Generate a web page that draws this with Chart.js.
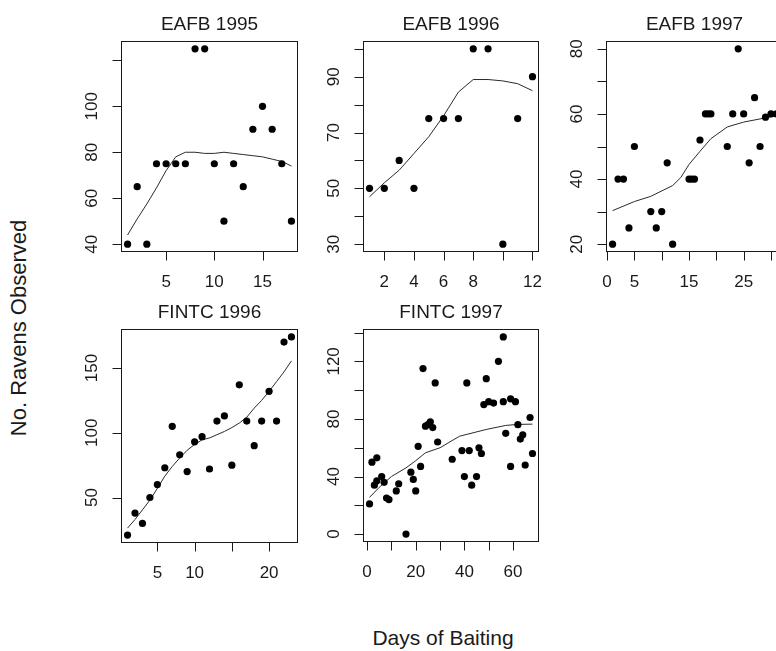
<!DOCTYPE html>
<html>
<head>
<meta charset="utf-8">
<script src="https://cdn.jsdelivr.net/npm/chart.js@4.4.0/dist/chart.umd.min.js"></script>
<style>
html, body { margin: 0; padding: 0; background: #fff; overflow: hidden; }
#wrap { position: relative; width: 776px; height: 651px; overflow: hidden; background: #fff; }
#wrap canvas { position: absolute; }
.lab { position: absolute; font-family: "Liberation Sans", Arial, sans-serif; color: #1a1a1a; white-space: nowrap; line-height: 1; }
#xlab { font-size: 21px; left: 443px; top: 627px; transform: translateX(-50%); }
#ylab { font-size: 22px; left: 19px; top: 328px; transform: translate(-50%, -50%) rotate(-90deg); }
</style>
</head>
<body>
<div id="wrap">
  <div class="lab" id="xlab">Days of Baiting</div>
  <div class="lab" id="ylab">No. Ravens Observed</div>
</div>
<script>
// EAFB 1995
var eafb95Day    = [1, 2, 3, 4, 5, 6, 7, 8, 9, 10, 11, 12, 13, 14, 15, 16, 17, 18];
var eafb95Ravens = [40, 65, 40, 75, 75, 75, 75, 125, 125, 75, 50, 75, 65, 90, 100, 90, 75, 50];
var eafb95FitDay = [1, 2, 3, 4, 5, 6, 7, 8, 9, 10, 11, 12, 13, 14, 15, 16, 17, 18];
var eafb95Fit    = [44, 51, 57.5, 64.5, 72, 78, 80, 80, 79.5, 79.5, 80, 79.5, 79, 78.5, 78, 77, 76, 74];

// EAFB 1996
var eafb96Day    = [1, 2, 3, 4, 5, 6, 7, 8, 9, 10, 11, 12];
var eafb96Ravens = [50, 50, 60, 50, 75, 75, 75, 100, 100, 30, 75, 90];
var eafb96FitDay = [1, 2, 3, 4, 5, 6, 7, 8, 9, 10, 11, 12];
var eafb96Fit    = [47, 52, 56.5, 62.5, 68.5, 76, 84.5, 89, 89, 88.5, 87.5, 85];

// EAFB 1997
var eafb97Day    = [1, 2, 3, 4, 5, 8, 9, 10, 11, 12, 15, 15.5, 16, 17, 18, 18.5, 19, 22, 23, 24, 25, 26, 27, 28, 29, 30, 31];
var eafb97Ravens = [20, 40, 40, 25, 50, 30, 25, 30, 45, 20, 40, 40, 40, 52, 60, 60, 60, 50, 60, 80, 60, 45, 65, 50, 59, 60, 60];
var eafb97FitDay = [1, 5, 8, 12, 13.5, 15, 17, 19, 22, 25, 29, 31];
var eafb97Fit    = [30.3, 33.1, 34.7, 38, 40.5, 44.5, 48.5, 52.4, 56, 57.5, 58.8, 59.5];

// FINTC 1996
var fintc96Day    = [1, 2, 3, 4, 5, 6, 7, 8, 9, 10, 11, 12, 13, 14, 15, 16, 17, 18, 19, 20, 21, 22, 23];
var fintc96Ravens = [21, 38, 30, 50, 60, 73, 105, 83, 70, 93, 97, 72, 109, 113, 75, 137, 109, 90, 109, 132, 109, 170, 174];
var fintc96FitDay = [1, 2, 3, 4, 5, 6, 7, 8, 9, 10, 11, 12, 13, 14, 15, 16, 17, 18, 19, 20, 21, 22, 23];
var fintc96Fit    = [26.4, 33, 40.5, 48, 57, 66.5, 74, 80.5, 86.5, 91, 94.5, 96, 98.5, 101, 104, 107.5, 112, 119, 125, 132, 139.5, 147, 155.5];

// FINTC 1997
var fintc97Day    = [1, 2, 3, 4, 4, 6, 7, 8, 9, 12, 13, 16, 18, 19, 20, 21, 22, 23, 24, 25, 26, 27, 28, 29, 35, 39, 40, 41, 42, 43, 45, 46, 47, 48, 49, 50, 52, 54, 56, 56, 57, 59, 59, 61, 62, 63, 64, 65, 67, 68];
var fintc97Ravens = [21, 50, 34, 53, 37, 40, 36, 25, 24, 30, 35, 0, 43, 38, 30, 61, 47, 115, 75, 76, 78, 74, 105, 64, 52, 58, 40, 105, 58, 34, 40, 60, 56, 90, 108, 92, 91, 120, 92, 137, 70, 94, 47, 92, 76, 66, 69, 48, 81, 56];
var fintc97FitDay = [1, 5, 10, 16, 20, 24, 30, 38, 49, 57, 62, 68];
var fintc97Fit    = [25.5, 32.5, 40, 46, 51, 56.5, 60, 68, 72.7, 75.5, 76.2, 76.4];

// axis ticks (blank label = tick without text, as R drops crowded labels)
var eafb95XTicks = [5, 10, 15];            var eafb95XLabels = ['5', '10', '15'];
var eafb95YTicks = [40, 60, 80, 100, 120]; var eafb95YLabels = ['40', '60', '80', '100', ''];
var eafb96XTicks = [2, 4, 6, 8, 10, 12];   var eafb96XLabels = ['2', '4', '6', '8', '', '12'];
var eafb96YTicks = [30, 40, 50, 60, 70, 80, 90, 100]; var eafb96YLabels = ['30', '', '50', '', '70', '', '90', ''];
var eafb97XTicks = [0, 5, 10, 15, 20, 25, 30]; var eafb97XLabels = ['0', '5', '', '15', '', '25', ''];
var eafb97YTicks = [20, 30, 40, 50, 60, 70, 80]; var eafb97YLabels = ['20', '', '40', '', '60', '', '80'];
var fintc96XTicks = [5, 10, 15, 20];       var fintc96XLabels = ['5', '10', '', '20'];
var fintc96YTicks = [50, 100, 150];        var fintc96YLabels = ['50', '100', '150'];
var fintc97XTicks = [0, 10, 20, 30, 40, 50, 60]; var fintc97XLabels = ['0', '', '20', '', '40', '', '60'];
var fintc97YTicks = [0, 20, 40, 60, 80, 100, 120, 140]; var fintc97YLabels = ['0', '', '40', '', '80', '', '120', ''];

var FONT = '"Liberation Sans", Arial, sans-serif';
var INK = '#1a1a1a';

function toPoints(xs, ys) {
    var out = [];
    for (var i = 0; i < xs.length; i++) out.push({x: xs[i], y: ys[i]});
    return out;
}

// R style limits: data range plus 4% on each side
function rLimits(arr) {
    var lo = Math.min.apply(null, arr), hi = Math.max.apply(null, arr);
    var d = (hi - lo) * 0.04;
    return {min: lo - d, max: hi + d};
}

function rFrame(title, xTicks, xLabels, yTicks, yLabels) {
    return {
        id: 'rFrame',
        afterDraw: function(chart) {
            var ctx = chart.ctx, a = chart.chartArea;
            var xs = chart.scales.x, ys = chart.scales.y;
            var L = Math.round(a.left) + 0.5, R = Math.round(a.right) - 0.5;
            var T = Math.round(a.top) + 0.5, B = Math.round(a.bottom) - 0.5;
            ctx.save();
            ctx.strokeStyle = INK;
            ctx.fillStyle = INK;
            ctx.lineWidth = 1;
            ctx.strokeRect(L, T, R - L, B - T);

            ctx.beginPath();
            xTicks.forEach(function(v) {
                var px = Math.round(xs.getPixelForValue(v)) + 0.5;
                ctx.moveTo(px, B); ctx.lineTo(px, B + 9);
            });
            yTicks.forEach(function(v) {
                var py = Math.round(ys.getPixelForValue(v)) + 0.5;
                ctx.moveTo(L, py); ctx.lineTo(L - 9, py);
            });
            ctx.stroke();

            var fs = 17;
            ctx.font = fs + 'px ' + FONT;
            ctx.textAlign = 'center';
            ctx.textBaseline = 'alphabetic';
            xTicks.forEach(function(v, i) {
                if (!xLabels[i]) return;
                ctx.fillText(xLabels[i], xs.getPixelForValue(v), B + 29 + 0.358 * fs);
            });
            yTicks.forEach(function(v, i) {
                if (!yLabels[i]) return;
                ctx.save();
                ctx.translate(L - 31 + 0.358 * fs, ys.getPixelForValue(v));
                ctx.rotate(-Math.PI / 2);
                ctx.fillText(yLabels[i], 0, 0);
                ctx.restore();
            });

            var tf = 19;
            ctx.font = tf + 'px ' + FONT;
            ctx.fillText(title, (a.left + a.right) / 2, a.top - 18 + 0.358 * tf);
            ctx.restore();
        }
    };
}

function makePanel(title, box, day, ravens, fitDay, fit, xTicks, xLabels, yTicks, yLabels) {
    var pad = {left: 70, top: 45, right: 20, bottom: 50};
    var cv = document.createElement('canvas');
    cv.width = box.r - box.l + pad.left + pad.right;
    cv.height = box.b - box.t + pad.top + pad.bottom;
    cv.style.left = (box.l - pad.left) + 'px';
    cv.style.top = (box.t - pad.top) + 'px';
    cv.style.width = cv.width + 'px';
    cv.style.height = cv.height + 'px';
    document.getElementById('wrap').appendChild(cv);

    var xl = rLimits(day), yl = rLimits(ravens);
    new Chart(cv.getContext('2d'), {
        type: 'scatter',
        data: {
            datasets: [{
                data: toPoints(day, ravens),
                pointRadius: 3.6,
                pointBackgroundColor: '#000',
                pointBorderWidth: 0,
                showLine: false
            }, {
                data: toPoints(fitDay, fit),
                showLine: true,
                pointRadius: 0,
                borderColor: '#2a2a2a',
                borderWidth: 1,
                fill: false,
                tension: 0
            }]
        },
        options: {
            responsive: false,
            animation: false,
            events: [],
            layout: {padding: pad},
            plugins: {legend: {display: false}, tooltip: {enabled: false}},
            scales: {
                x: {type: 'linear', display: false, min: xl.min, max: xl.max},
                y: {type: 'linear', display: false, min: yl.min, max: yl.max}
            }
        },
        plugins: [rFrame(title, xTicks, xLabels, yTicks, yLabels)]
    });
}

makePanel('EAFB 1995', {l: 121, r: 298, t: 41, b: 252}, eafb95Day, eafb95Ravens, eafb95FitDay, eafb95Fit,
    eafb95XTicks, eafb95XLabels, eafb95YTicks, eafb95YLabels);
makePanel('EAFB 1996', {l: 363, r: 539, t: 41, b: 252}, eafb96Day, eafb96Ravens, eafb96FitDay, eafb96Fit,
    eafb96XTicks, eafb96XLabels, eafb96YTicks, eafb96YLabels);
makePanel('EAFB 1997', {l: 606, r: 783, t: 41, b: 252}, eafb97Day, eafb97Ravens, eafb97FitDay, eafb97Fit,
    eafb97XTicks, eafb97XLabels, eafb97YTicks, eafb97YLabels);
makePanel('FINTC 1996', {l: 121, r: 298, t: 329, b: 543}, fintc96Day, fintc96Ravens, fintc96FitDay, fintc96Fit,
    fintc96XTicks, fintc96XLabels, fintc96YTicks, fintc96YLabels);
makePanel('FINTC 1997', {l: 363, r: 539, t: 329, b: 542}, fintc97Day, fintc97Ravens, fintc97FitDay, fintc97Fit,
    fintc97XTicks, fintc97XLabels, fintc97YTicks, fintc97YLabels);
</script>
</body>
</html>
